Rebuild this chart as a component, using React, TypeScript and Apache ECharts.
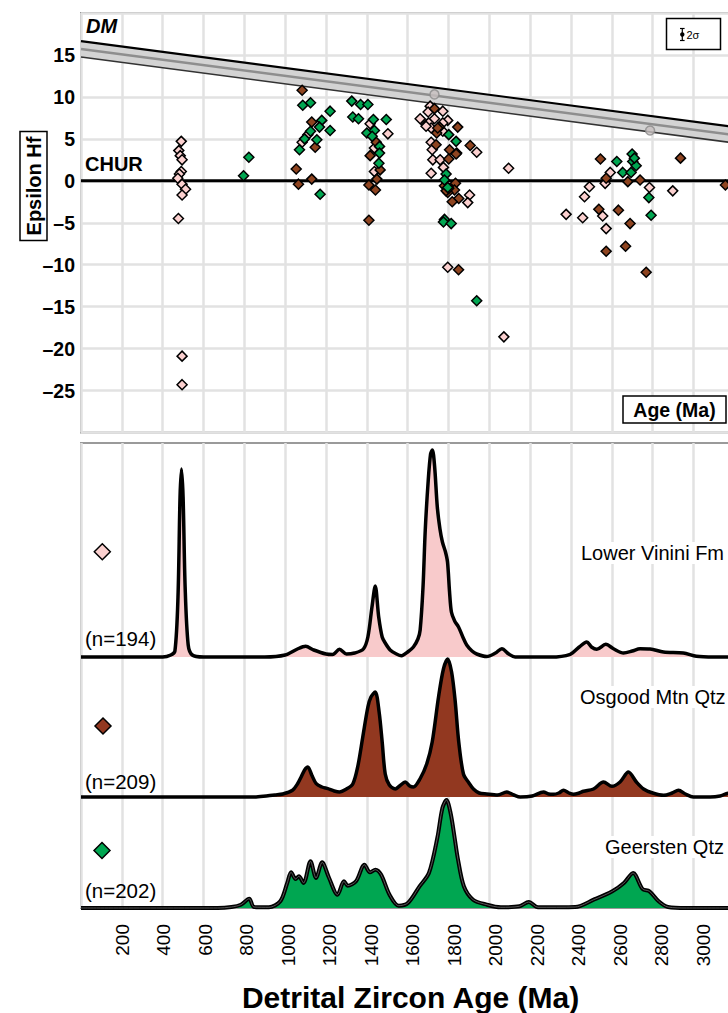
import React, { useEffect, useRef } from "react";
import * as echarts from "echarts";

const FONT = '"Liberation Sans", Arial, Helvetica, sans-serif';

// ---------- axes ----------
const AGE_MIN = 0;
const AGE_MAX = 3200;
const AGE_STEP = 200;
const AGE_LABEL_MAX = 3000;
const EPS_MIN = -30;
const EPS_MAX = 20;
const EPS_STEP = 5;

// ---------- reference curves (epsilon Hf panel) ----------
const DM_AGES = [0, 3200];
const DM_UPPER = [16.65, 6.41];
const DM_CENTER = [15.7, 5.46];
const DM_LOWER = [14.75, 4.51];
const DM_MARK_AGES = [1731, 2787];
const DM_MARK_EPS = [10.3, 6.0];
const CHUR_AGES = [0, 3200];
const CHUR_EPS = [0, 0];

// ---------- Hf isotope data ----------
const VININI_HF_AGES = [491, 479, 486, 495, 491, 482, 474, 495, 512, 495, 477, 495, 495, 1111, 1083, 1416, 1503, 1437, 1437, 1710, 1772, 1661, 1731, 1796, 1690, 1703, 1715, 1772, 1772, 1715, 1938, 1720, 1723, 1759, 1715, 1775, 2094, 1903, 1894, 1796, 2071, 1690, 2592, 2567, 2490, 2784, 2898, 2466, 2376, 2457, 2555, 2572, 1700];
const VININI_HF_EPS = [4.7, 3.6, 3.0, 2.5, 1.1, 0.8, 0.3, -0.4, -1.0, -1.7, -4.5, -20.9, -24.3, 5.5, 4.6, 6.8, 5.6, 3.9, 1.1, 8.9, 8.3, 7.4, 7.4, 7.2, 6.7, 6.9, 6.3, 5.9, 6.9, 4.6, 3.4, 3.7, 2.5, 2.5, 0.9, 1.6, 1.5, -1.7, -2.6, -10.3, -18.6, 6.5, 1.0, -0.3, -0.7, -0.8, -1.2, -1.9, -4.0, -4.4, -4.2, -5.7, 8.2];

const OSGOOD_HF_AGES = [1083, 1130, 1147, 1054, 1065, 1130, 1446, 1416, 1465, 1449, 1410, 1442, 1410, 1731, 1756, 1845, 1742, 1739, 1906, 1805, 1840, 1801, 1780, 1834, 1829, 1796, 1850, 1818, 1849, 1747, 1837, 1788, 2544, 2572, 2678, 2738, 2936, 3156, 2536, 2632, 2689, 2667, 2572, 2768];
const OSGOOD_HF_EPS = [10.8, 7.0, 4.0, 1.4, -0.4, 0.2, 4.6, 3.0, 1.3, 0.2, -0.5, -1.1, -4.7, 8.6, 6.4, 6.4, 5.7, 4.3, 4.2, 3.7, 3.3, 2.6, -0.6, -0.3, -1.1, -1.4, -2.1, -2.5, -10.6, 6.3, 3.2, -1.2, 2.6, 0.3, -0.1, 0.1, 2.7, -0.5, -3.4, -3.5, -5.1, -7.8, -8.4, -10.9];

const GEERSTEN_HF_AGES = [796, 822, 1086, 1124, 1220, 1179, 1168, 1124, 1220, 1095, 1155, 1070, 1171, 1326, 1369, 1405, 1331, 1359, 1432, 1495, 1400, 1437, 1426, 1462, 1462, 1459, 1801, 1837, 1788, 1780, 1801, 1796, 1780, 1775, 1813, 1938, 2624, 2699, 2702, 2719, 2653, 2694, 2781, 2792, 2710];
const GEERSTEN_HF_EPS = [0.6, 2.8, 9.0, 9.3, 8.3, 7.2, 6.4, 5.9, 6.0, 5.0, 4.9, 3.7, -1.6, 9.5, 9.1, 9.1, 7.6, 7.4, 7.3, 7.3, 5.7, 6.0, 5.3, 4.1, 3.3, 2.1, 5.5, 4.7, 0.8, 0.1, -0.9, -0.8, -4.6, -4.9, -5.1, -14.3, 2.3, 3.2, 2.3, 1.8, 1.0, 1.0, -2.0, -4.1, 2.7];

// ---------- detrital zircon age probability curves (relative) ----------
const VININI_KDE_AGES = [0, 400, 440, 460, 475, 485, 492, 500, 510, 525, 545, 600, 900, 1000, 1060, 1100, 1140, 1200, 1232, 1266, 1300, 1340, 1383, 1405, 1425, 1441, 1458, 1475, 1490, 1514, 1545, 1570, 1600, 1628, 1650, 1661, 1675, 1686, 1700, 1712, 1721, 1732, 1745, 1758, 1770, 1785, 1795, 1805, 1814, 1830, 1849, 1870, 1889, 1915, 1938, 1987, 2030, 2061, 2095, 2126, 2300, 2396, 2440, 2477, 2500, 2526, 2570, 2610, 2657, 2700, 2738, 2787, 2853, 2950, 3014, 3100, 3200];
const VININI_KDE = [0, 0, 2, 6, 60, 160, 188, 160, 70, 12, 2, 0, 0, 2, 8, 10.7, 7, 3, 2.5, 7.7, 3, 4, 8, 20, 50, 71, 40, 20, 14, 7, 3, 1.3, 5, 10, 18, 27, 70, 127, 175, 203, 207, 190, 150, 128, 115, 105, 95, 65, 45, 36, 30, 20, 12, 6, 3, 0.5, 4, 8.3, 3, 0, 0, 2.7, 10, 15, 10, 7.7, 12.7, 8, 4, 6, 8.3, 8, 5, 4, 0.7, 0, 0];

const OSGOOD_KDE_AGES = [0, 850, 907, 950, 988, 1036, 1060, 1078, 1095, 1111, 1130, 1152, 1180, 1209, 1240, 1266, 1300, 1331, 1355, 1380, 1405, 1420, 1441, 1460, 1475, 1490, 1510, 1539, 1560, 1588, 1610, 1628, 1660, 1693, 1720, 1751, 1775, 1796, 1815, 1832, 1850, 1873, 1900, 1922, 1950, 1987, 2040, 2085, 2120, 2151, 2210, 2265, 2290, 2314, 2340, 2363, 2390, 2412, 2440, 2461, 2510, 2559, 2600, 2640, 2681, 2720, 2755, 2800, 2853, 2895, 2926, 2960, 2999, 3081, 3130, 3160, 3200];
const OSGOOD_KDE = [0, 0, 1, 2, 3, 6.7, 13, 20, 27, 30, 22, 13.3, 10, 8.3, 6, 5, 8, 13, 30, 60, 90, 100, 105, 85, 55, 23, 12, 8, 11, 15, 11, 10, 18, 33, 55, 100, 128, 138, 125, 97, 55, 23, 14, 8, 4, 3, 2, 5, 2, 0, 1, 5, 3, 2.7, 4, 6.7, 4, 2.7, 4, 5.7, 8, 15, 10.7, 15, 25, 15, 8, 4, 1.7, 4, 6.7, 3, 0, 0, 1, 3.3, 5];

const GEERSTEN_KDE_AGES = [0, 669, 737, 783, 824, 847, 920, 976, 1010, 1029, 1051, 1067, 1090, 1124, 1151, 1181, 1215, 1256, 1288, 1306, 1347, 1388, 1415, 1442, 1470, 1511, 1556, 1601, 1658, 1704, 1745, 1770, 1790, 1810, 1830, 1845, 1875, 1920, 1988, 2056, 2147, 2193, 2238, 2420, 2511, 2602, 2659, 2704, 2750, 2784, 2829, 2875, 2965, 3200];
const GEERSTEN_KDE = [0, 0, 1, 3.3, 9.3, 1, 0.7, 6.7, 25, 35.7, 29, 31.7, 25, 46.7, 30, 45.7, 30, 13.3, 26.7, 22.3, 26.7, 43.3, 35.7, 38.3, 33.3, 13.3, 2.3, 5, 21.7, 35, 70, 100, 108, 95, 70, 50, 21.7, 8.3, 3.3, 0.7, 1.7, 6, 0.7, 1, 8.3, 16.7, 25, 35, 19, 16.7, 6.7, 1, 0, 0];

const SAMPLE_NAMES = ["Lower Vinini Fm", "Osgood Mtn Qtz", "Geersten Qtz"];
const SAMPLE_N = ["(n=194)", "(n=209)", "(n=202)"];

// ---------- styles ----------
const PINK = "#fbd0cf";
const PINK_FILL = "#f8cacb";
const BROWN = "#8e4420";
const BROWN_FILL = "#923820";
const GREEN = "#00a651";
const GRID_LINE = "#e2e2e2";
const BORDER = "#9a9a9a";

const zip = (a: number[], b: number[]) => a.map((v, i) => [v, b[i]]);

function diamond(cx: number, cy: number, r: number, fill: string) {
  return {
    type: "polygon",
    z: 100,
    shape: { points: [[cx, cy - r], [cx + r, cy], [cx, cy + r], [cx - r, cy]] },
    style: { fill, stroke: "#000", lineWidth: 1.5 },
  };
}

function label(text: string, x: number, y: number, font: string, extra: any = {}) {
  return {
    type: "text",
    z: 100,
    x,
    y,
    ...extra,
    style: { text, font, fill: "#000", textAlign: "left", textVerticalAlign: "middle", ...(extra.style || {}) },
  };
}

export default function App() {
  const ref = useRef<HTMLDivElement>(null);

  useEffect(() => {
    if (!ref.current) return;
    const chart = echarts.init(ref.current, null, { renderer: "svg" });

    const hiddenX = (gridIndex: number) => ({
      type: "value", gridIndex, min: AGE_MIN, max: AGE_MAX, interval: AGE_STEP,
      axisLine: { show: false }, axisTick: { show: false }, axisLabel: { show: false }, splitLine: { show: false },
    });
    const hiddenY = (gridIndex: number, max: number) => ({
      type: "value", gridIndex, min: 0, max,
      axisLine: { show: false }, axisTick: { show: false }, axisLabel: { show: false }, splitLine: { show: false },
    });

    const kdeSeries = (name: string, ages: number[], vals: number[], idx: number, fill: string, width = 3.5) => ({
      name, type: "line", xAxisIndex: idx, yAxisIndex: idx,
      data: zip(ages, vals), smooth: 0.3, symbol: "none", clip: false,
      lineStyle: { color: "#000", width },
      areaStyle: { color: fill, opacity: 1 },
      z: 5,
    });

    const scatter = (name: string, ages: number[], eps: number[], color: string) => ({
      name, type: "scatter", xAxisIndex: 0, yAxisIndex: 0,
      data: zip(ages, eps), symbol: "diamond", symbolSize: 10,
      itemStyle: { color, borderColor: "#000", borderWidth: 1.5, opacity: 1 },
      z: 6,
    });

    const option: any = {
      animation: false,
      backgroundColor: "#fff",
      textStyle: { fontFamily: FONT },
      grid: [
        { left: 81, top: 13, width: 653.4, height: 419.5, show: true, borderColor: BORDER, borderWidth: 2, containLabel: false, outerBoundsMode: "none" },
        { left: 81, top: 443, width: 653.4, height: 465, show: true, borderColor: BORDER, borderWidth: 2, containLabel: false, outerBoundsMode: "none" },
        { left: 81, top: 443, width: 653.4, height: 214, containLabel: false, outerBoundsMode: "none" },
        { left: 81, top: 657, width: 653.4, height: 140, containLabel: false, outerBoundsMode: "none" },
        { left: 81, top: 797, width: 653.4, height: 111, containLabel: false, outerBoundsMode: "none" },
        { left: 80.5, top: 443, width: 664.3, height: 465, containLabel: false, outerBoundsMode: "none" },
      ],
      xAxis: [
        {
          type: "value", gridIndex: 0, min: AGE_MIN, max: AGE_MAX, interval: AGE_STEP,
          axisLine: { show: false }, axisTick: { show: false }, axisLabel: { show: false },
          splitLine: { show: true, lineStyle: { color: GRID_LINE, width: 2.5 } },
        },
        {
          type: "value", gridIndex: 1, min: AGE_MIN, max: AGE_MAX, interval: AGE_STEP,
          axisLine: { show: false }, axisTick: { show: false }, axisLabel: { show: false },
          splitLine: { show: true, lineStyle: { color: GRID_LINE, width: 2.5 } },
        },
        hiddenX(2), hiddenX(3), hiddenX(4),
        {
          type: "value", gridIndex: 5, min: AGE_MIN, max: AGE_MAX, interval: AGE_STEP,
          axisLine: { show: false }, axisTick: { show: false }, splitLine: { show: false },
          axisLabel: {
            show: true, rotate: 90, margin: 16, color: "#000", fontSize: 19, fontFamily: FONT,
            showMaxLabel: false,
            formatter: (v: number) => (v === 0 || v > AGE_LABEL_MAX ? "" : String(v)),
          },
        },
      ],
      yAxis: [
        {
          type: "value", gridIndex: 0, min: EPS_MIN, max: EPS_MAX, interval: EPS_STEP,
          axisLine: { show: false }, axisTick: { show: false },
          splitLine: { show: true, lineStyle: { color: GRID_LINE, width: 2.5 } },
          axisLabel: {
            color: "#000", fontSize: 19.5, fontWeight: "bold", fontFamily: FONT, margin: 6, padding: [0, 0, 5, 0],
            formatter: (v: number) => (v === EPS_MAX || v === EPS_MIN ? "" : v < 0 ? "\u2013" + Math.abs(v) : String(v)),
          },
        },
        hiddenY(1, 1), hiddenY(2, 214), hiddenY(3, 140), hiddenY(4, 111), hiddenY(5, 1),
      ],
      series: [
        {
          name: "DM band", type: "custom", xAxisIndex: 0, yAxisIndex: 0,
          data: DM_AGES.map((a, i) => [a, DM_LOWER[i], DM_UPPER[i]]),
          encode: { x: 0, y: [1, 2] },
          clip: false, z: 3, silent: true,
          renderItem: (params: any, api: any) => {
            if (params.dataIndex !== 0) return null;
            const pts: number[][] = [];
            for (let i = 0; i < DM_AGES.length; i++) pts.push(api.coord([DM_AGES[i], DM_UPPER[i]]));
            for (let i = DM_AGES.length - 1; i >= 0; i--) pts.push(api.coord([DM_AGES[i], DM_LOWER[i]]));
            return { type: "polygon", shape: { points: pts }, style: { fill: "#d3d3d3", stroke: "none" } };
          },
        },
        { name: "DM center", type: "line", xAxisIndex: 0, yAxisIndex: 0, data: zip(DM_AGES, DM_CENTER), symbol: "none", clip: false, lineStyle: { color: "#8e8e8e", width: 2.5 }, z: 4 },
        { name: "DM lower", type: "line", xAxisIndex: 0, yAxisIndex: 0, data: zip(DM_AGES, DM_LOWER), symbol: "none", clip: false, lineStyle: { color: "#333", width: 1.5 }, z: 4 },
        { name: "DM upper", type: "line", xAxisIndex: 0, yAxisIndex: 0, data: zip(DM_AGES, DM_UPPER), symbol: "none", clip: false, lineStyle: { color: "#000", width: 2.2 }, z: 4 },
        { name: "CHUR", type: "line", xAxisIndex: 0, yAxisIndex: 0, data: zip(CHUR_AGES, CHUR_EPS), symbol: "none", clip: false, lineStyle: { color: "#000", width: 3 }, z: 4 },
        scatter("Lower Vinini Fm", VININI_HF_AGES, VININI_HF_EPS, PINK),
        scatter("Osgood Mtn Qtz", OSGOOD_HF_AGES, OSGOOD_HF_EPS, BROWN),
        scatter("Geersten Qtz", GEERSTEN_HF_AGES, GEERSTEN_HF_EPS, GREEN),
        {
          name: "DM points", type: "scatter", xAxisIndex: 0, yAxisIndex: 0,
          data: zip(DM_MARK_AGES, DM_MARK_EPS), symbol: "circle", symbolSize: 9,
          itemStyle: { color: "#c8c0c0", borderColor: "#8a8a8a", borderWidth: 1.5 }, z: 7,
        },
        kdeSeries("Geersten Qtz KDE", GEERSTEN_KDE_AGES, GEERSTEN_KDE, 4, GREEN, 4),
        {
          name: "Geersten Qtz KDE inner", type: "line", xAxisIndex: 4, yAxisIndex: 4,
          data: zip(GEERSTEN_KDE_AGES, GEERSTEN_KDE), smooth: 0.3, symbol: "none", clip: false,
          lineStyle: { color: "#6e6e6e", width: 0.8 }, z: 6,
        },
        kdeSeries("Osgood Mtn Qtz KDE", OSGOOD_KDE_AGES, OSGOOD_KDE, 3, BROWN_FILL),
        kdeSeries("Lower Vinini Fm KDE", VININI_KDE_AGES, VININI_KDE, 2, PINK_FILL),
      ],
      graphic: [
        label("DM", 86, 25.5, `italic bold 20px ${FONT}`),
        label("CHUR", 85, 163.5, `bold 20px ${FONT}`),
        // 2 sigma box
        { type: "rect", z: 100, shape: { x: 666.5, y: 18.5, width: 54, height: 31 }, style: { fill: "#fff", stroke: "#000", lineWidth: 1.5 } },
        { type: "line", z: 101, shape: { x1: 682.3, y1: 28.5, x2: 682.3, y2: 40.5 }, style: { stroke: "#000", lineWidth: 1.2 } },
        { type: "line", z: 101, shape: { x1: 680, y1: 28.5, x2: 684.6, y2: 28.5 }, style: { stroke: "#000", lineWidth: 1.2 } },
        { type: "line", z: 101, shape: { x1: 680, y1: 40.5, x2: 684.6, y2: 40.5 }, style: { stroke: "#000", lineWidth: 1.2 } },
        { type: "circle", z: 101, shape: { cx: 682.3, cy: 34.5, r: 2.2 }, style: { fill: "#000" } },
        label("2\u03c3", 686.5, 35, `11px ${FONT}`),
        // Age (Ma) box
        { type: "rect", z: 100, shape: { x: 623, y: 396, width: 103, height: 27 }, style: { fill: "#fff", stroke: "#000", lineWidth: 1.5 } },
        label("Age (Ma)", 674.5, 410, `bold 19.5px ${FONT}`, { style: { textAlign: "center" } }),
        // Epsilon Hf box
        { type: "rect", z: 100, shape: { x: 20, y: 131.5, width: 27, height: 109 }, style: { fill: "#fff", stroke: "#000", lineWidth: 1.5 } },
        label("Epsilon Hf", 34, 186, `bold 20px ${FONT}`, { rotation: Math.PI / 2, style: { textAlign: "center" } }),
        // KDE legends
        diamond(102.3, 551.7, 8, PINK),
        diamond(103, 726, 8, BROWN_FILL),
        diamond(102, 850.5, 8, GREEN),
        label(SAMPLE_N[0], 85, 638, `20.5px ${FONT}`),
        label(SAMPLE_N[1], 85, 781, `20.5px ${FONT}`),
        label(SAMPLE_N[2], 85, 890, `20.5px ${FONT}`),
        label(SAMPLE_NAMES[0], 578, 553, `20px ${FONT}`, { style: { backgroundColor: "#fff", padding: [1, 3] } }),
        label(SAMPLE_NAMES[1], 577, 697, `20px ${FONT}`, { style: { backgroundColor: "#fff", padding: [1, 3] } }),
        label(SAMPLE_NAMES[2], 602, 847, `20px ${FONT}`, { style: { backgroundColor: "#fff", padding: [1, 3] } }),
        label("Detrital Zircon Age (Ma)", 410.5, 997.5, `bold 30px ${FONT}`, { style: { textAlign: "center" } }),
      ],
    };

    chart.setOption(option);
    return () => chart.dispose();
  }, []);

  return (
    <div style={{ position: "fixed", left: 0, top: 0, width: 728, height: 1013, overflow: "hidden", background: "#fff" }}>
      <div ref={ref} style={{ width: 780, height: 1013 }} />
    </div>
  );
}
